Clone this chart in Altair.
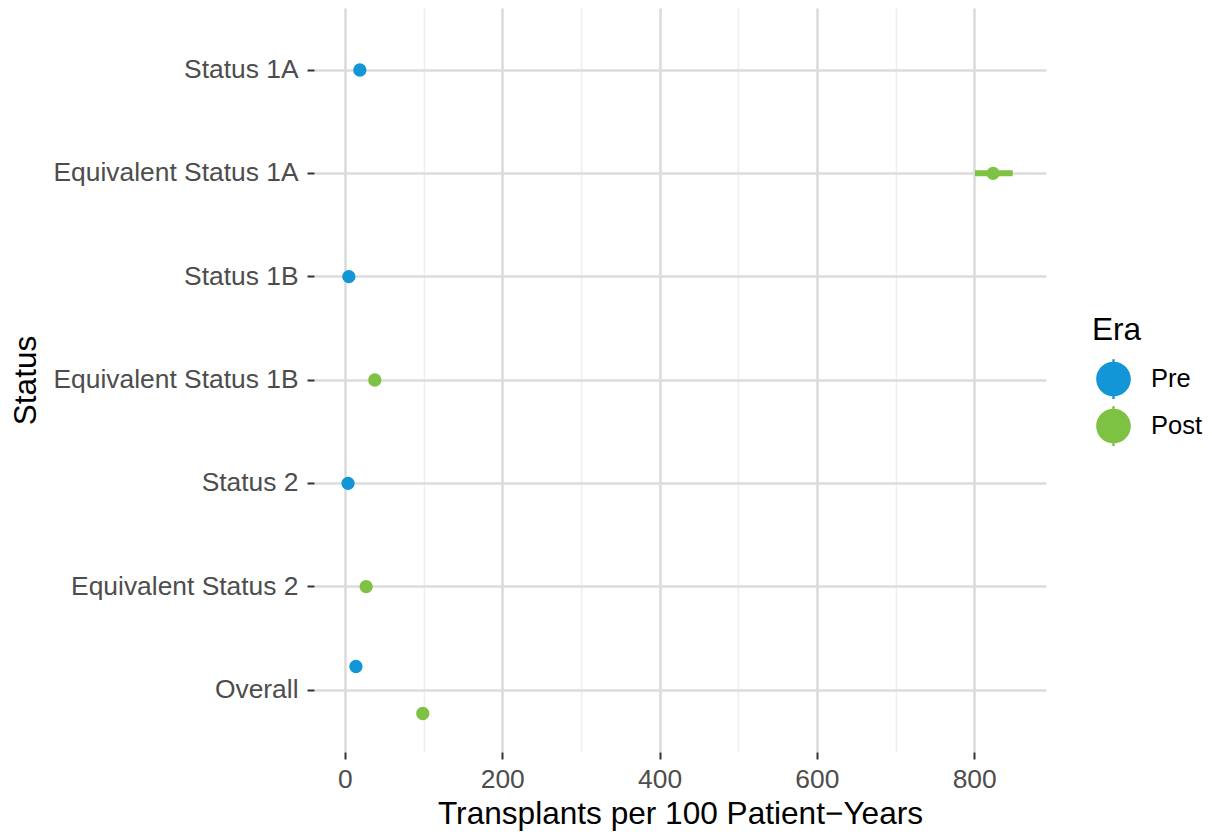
import altair as alt
import pandas as pd

status = ["Status 1A", "Equivalent Status 1A", "Status 1B", "Equivalent Status 1B",
          "Status 2", "Equivalent Status 2", "Overall", "Overall"]
era = ["Pre", "Post", "Pre", "Post", "Pre", "Post", "Pre", "Post"]
rate = [19, 824, 5, 38, 4, 27, 14, 99]
lower = [17, 801, 4, 34, 3, 24, 13, 96]
upper = [21, 849, 6, 42, 5, 30, 15, 102]

status_order = ["Status 1A", "Equivalent Status 1A", "Status 1B", "Equivalent Status 1B",
                "Status 2", "Equivalent Status 2", "Overall"]
era_order = ["Pre", "Post"]
era_colors = ["#1396D8", "#7DC242"]
x_ticks = [0, 100, 200, 300, 400, 500, 600, 700, 800]

df = pd.DataFrame({"Status": status, "Era": era, "rate": rate, "lower": lower, "upper": upper})
counts = df.groupby("Status")["Era"].transform("count")
df["slot"] = ["mid" if c == 1 else ("a" if e == "Pre" else "c") for c, e in zip(counts, df["Era"])]

lo, hi = min(lower), max(upper)
rng = hi - lo
xdom = [lo - 0.05 * rng, hi + 0.05 * rng]

FONT = "Liberation Sans"
XTITLE = "Transplants per 100 Patient\u2212Years"

xaxis = alt.Axis(values=x_ticks, title=XTITLE,
                 labelExpr="datum.value % 200 === 0 ? datum.label : ''",
                 gridColor={"condition": {"test": "datum.value % 200 !== 0", "value": "#eeeeee"}, "value": "#dcdcdc"},
                 gridWidth={"condition": {"test": "datum.value % 200 !== 0", "value": 1.6}, "value": 2.6},
                 tickOpacity={"condition": {"test": "datum.value % 200 !== 0", "value": 0}, "value": 1},
                 labelPadding=7, titlePadding=6)
xscale = alt.Scale(domain=xdom, nice=False, zero=False)

yenc = alt.Y("Status:N", sort=status_order,
             scale=alt.Scale(paddingInner=0, paddingOuter=0.1),
             axis=alt.Axis(title="Status", bandPosition=0.5, grid=True, gridWidth=2.6,
                           labelPadding=9, labelLimit=400, titleX=-272, titleY=372,
                           titleAngle=270, titleBaseline="bottom", titleAlign="center"))
yoff = alt.YOffset("slot:N", scale=alt.Scale(domain=["a", "mid", "c"], paddingInner=0, paddingOuter=0.698))
color = alt.Color("Era:N", scale=alt.Scale(domain=era_order, range=era_colors),
                  legend=alt.Legend(title="Era"))

base = alt.Chart(df)
bars = base.mark_rule(strokeWidth=6).encode(
    x=alt.X("lower:Q", scale=xscale, axis=xaxis, title=XTITLE),
    x2="upper:Q", y=yenc, yOffset=yoff, color=color)
pts = base.mark_point(filled=True, opacity=1, size=177).encode(
    x=alt.X("rate:Q", scale=xscale, axis=xaxis, title=XTITLE),
    y=yenc, yOffset=yoff, color=color)

legend_path = ("M -1,0 A 1,1 0 1,1 1,0 A 1,1 0 1,1 -1,0 Z "
               "M -0.07,-1.15 L 0.07,-1.15 L 0.07,1.15 L -0.07,1.15 Z")

chart = alt.layer(bars, pts).properties(
    width=732, height=744,
    autosize=alt.AutoSizeParams(type="none"),
    padding={"left": 306, "top": 0, "right": 158, "bottom": 80},
    background="white",
).configure_view(stroke=None).configure_axis(
    domain=False,
    labelFont=FONT, titleFont=FONT,
    labelFontSize=26.4, labelColor="#4d4d4d",
    titleFontSize=31.6, titleColor="#000000", titleFontWeight="normal",
    tickColor="#333333", tickWidth=2, tickSize=7,
    gridColor="#dcdcdc",
).configure_legend(
    orient="none", legendX=778, legendY=307,
    titleFont=FONT, labelFont=FONT, titleFontSize=31.6, titleFontWeight="normal",
    titleColor="#000000", labelFontSize=25.5, labelColor="#000000",
    symbolType=legend_path, symbolSize=1204, symbolStrokeWidth=0,
    symbolOpacity=1, symbolOffset=4, rowPadding=6, labelOffset=20, titlePadding=15,
)

chart.save("out.html", embed_options={"renderer": "svg", "actions": False})
